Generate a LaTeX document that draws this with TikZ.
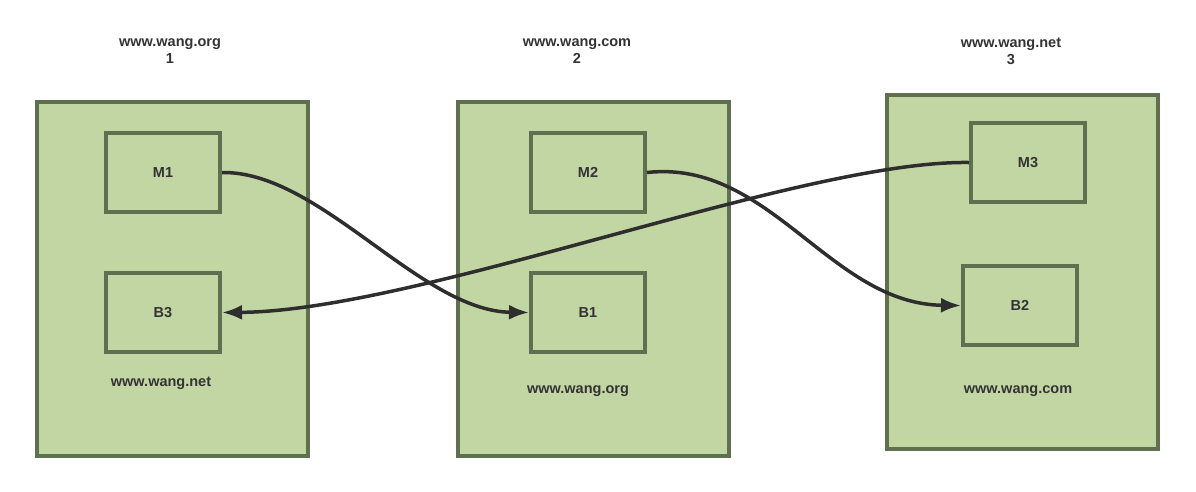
\documentclass[tikz,border=0pt]{standalone}
\usepackage{fontspec}
\setmainfont{Liberation Sans}
\usetikzlibrary{arrows.meta}
\definecolor{boxfill}{HTML}{C2D6A4}
\definecolor{boxline}{HTML}{5F7050}
\definecolor{txt}{HTML}{333333}
\definecolor{conn}{HTML}{2E2E2E}
\begin{document}
\begin{tikzpicture}[x=1pt,y=-1pt,
  outer/.style={draw=boxline,fill=boxfill,line width=4pt,minimum width=271pt,minimum height=354pt,inner sep=0pt,anchor=north west},
  inner/.style={draw=boxline,fill=boxfill,line width=4pt,minimum width=114pt,minimum height=79pt,inner sep=0pt,anchor=north west,font=\bfseries\fontsize{14.5}{17}\selectfont,text=txt},
  lbl/.style={font=\bfseries\fontsize{14.5}{17}\selectfont,text=txt,align=center},
  conn/.style={draw=conn,line width=3.5pt,-{Latex[length=20pt,width=15pt]}}]
\useasboundingbox (0,0) rectangle (1196,491);
% outer boxes
\node[outer] (o1) at (35,100) {};
\node[outer] (o2) at (456,100) {};
\node[outer] (o3) at (885,93) {};
% inner boxes
\node[inner] (m1) at (104,131) {M1};
\node[inner] (b3) at (104,271) {B3};
\node[inner] (m2) at (529,131) {M2};
\node[inner] (b1) at (529,271) {B1};
\node[inner] (m3) at (969,121) {M3};
\node[inner] (b2) at (961,264) {B2};
% titles
\node[lbl] (t1) at (170,51) {www.wang.org\\1};
\node[lbl] (t2) at (577,51) {www.wang.com\\2};
\node[lbl] (t3) at (1011,51) {www.wang.net\\3};
% bottom labels
\node[lbl] (l1) at (161,383) {www.wang.net};
\node[lbl] (l2) at (578,391) {www.wang.org};
\node[lbl] (l3) at (1018,391) {www.wang.com};
% connectors
\draw[conn] (m1.east) .. controls (320,171) and (420,311) .. (b1.west);
\draw[conn] (m2.east) .. controls (770,159) and (830,304) .. (b2.west);
\draw[conn] (m3.west) .. controls (800,160) and (420,311) .. (b3.east);
\end{tikzpicture}
\end{document}
